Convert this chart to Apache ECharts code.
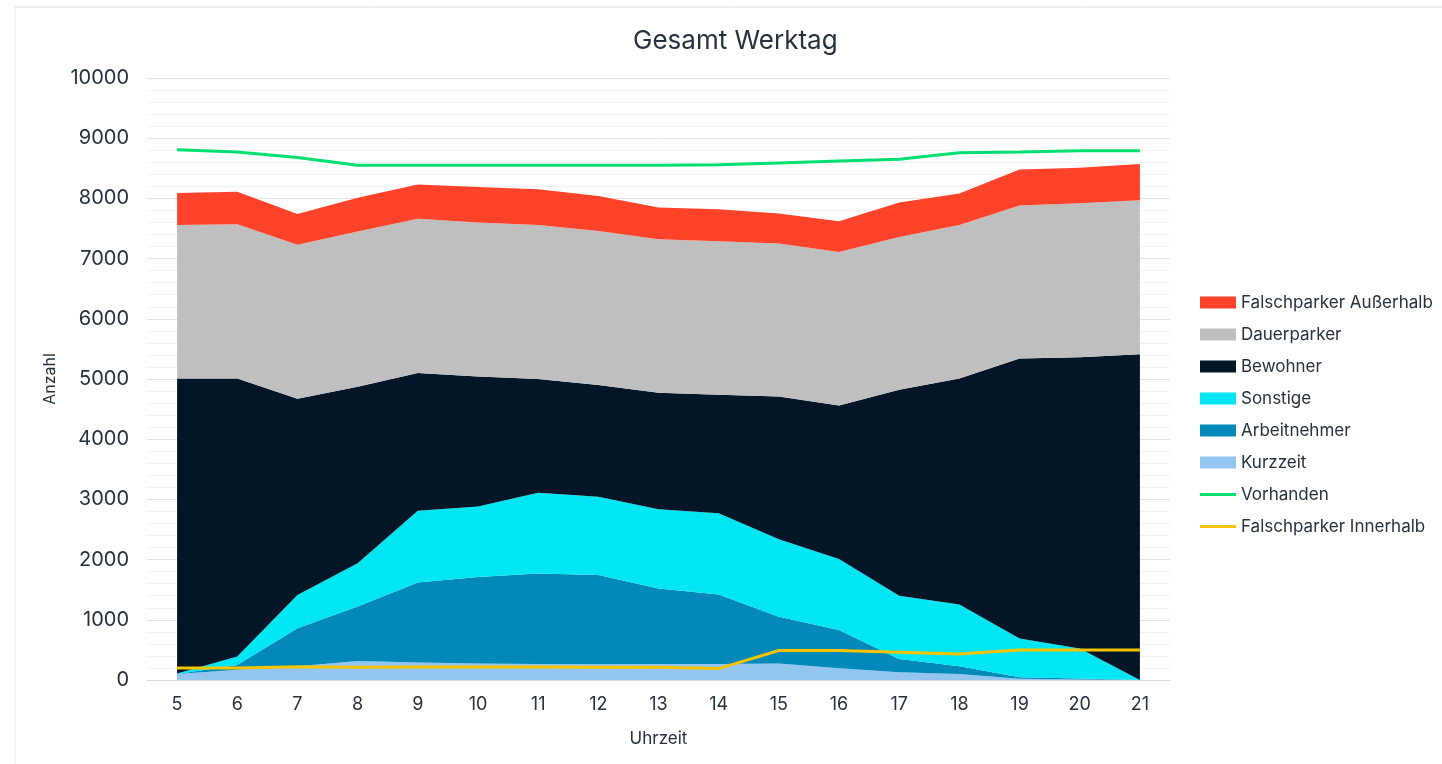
<!DOCTYPE html>
<html>
<head>
<meta charset="utf-8">
<title>Gesamt Werktag</title>
<script src="https://cdn.jsdelivr.net/npm/echarts@6/dist/echarts.min.js"></script>
<style>
  html, body { margin: 0; padding: 0; background: #fff; }
  #chart { width: 1442px; height: 764px; }
</style>
</head>
<body>
<div id="chart"></div>
<script>
// Uhrzeit (Stunde)
const hours = ['5','6','7','8','9','10','11','12','13','14','15','16','17','18','19','20','21']

// gestapelte Flaechen, von unten nach oben
const kurzzeit     = [100, 170, 230, 315, 290, 275, 265, 260, 265, 265, 275, 195, 130, 100, 20, 10, 0]
const arbeitnehmer = [0, 80, 630, 905, 1330, 1435, 1505, 1485, 1255, 1155, 775, 635, 220, 130, 25, 15, 0]
const sonstige     = [10, 140, 550, 720, 1190, 1170, 1340, 1300, 1315, 1350, 1290, 1180, 1050, 1025, 645, 500, 0]
const bewohner     = [4900, 4620, 3260, 2930, 2290, 2160, 1890, 1855, 1935, 1970, 2370, 2550, 3420, 3755, 4650, 4835, 5410]
const dauerparker  = [2550, 2560, 2560, 2580, 2560, 2560, 2560, 2560, 2550, 2550, 2540, 2550, 2540, 2550, 2540, 2560, 2560]
const falschAussen = [530, 540, 510, 560, 570, 590, 590, 580, 530, 530, 500, 510, 570, 520, 600, 590, 600]

// Linien
const vorhanden    = [8810, 8770, 8680, 8550, 8550, 8550, 8550, 8550, 8550, 8560, 8590, 8620, 8650, 8760, 8770, 8790, 8790]
const falschInnen  = [200, 200, 220, 210, 215, 215, 215, 210, 210, 190, 490, 490, 460, 430, 500, 500, 500]

const textColor = '#26313d'
const font = 'Inter, "Noto Sans", sans-serif'
// duenner Strich als Legenden-Symbol fuer die Linien
const lineIcon = 'path://M0,0L0.01,0M0,4.5L36,4.5L36,7.5L0,7.5ZM36,12L35.99,12'

function area(name, data, color) {
    return {
        name: name,
        type: 'line',
        stack: 'gesamt',
        data: data,
        symbol: 'none',
        lineStyle: { width: 0 },
        areaStyle: { color: color, opacity: 1 },
        itemStyle: { color: color },
        emphasis: { disabled: true }
    }
}

function line(name, data, color) {
    return {
        name: name,
        type: 'line',
        data: data,
        symbol: 'none',
        z: 5,
        lineStyle: { width: 3, color: color },
        itemStyle: { color: color },
        emphasis: { disabled: true }
    }
}

const chart = echarts.init(document.getElementById('chart'))

chart.setOption({
    animation: false,
    textStyle: { fontFamily: font },
    title: {
        text: 'Gesamt Werktag',
        left: 628,
        top: 23,
        textStyle: { fontSize: 26, fontWeight: 'normal', color: textColor, fontFamily: font }
    },
    legend: {
        orient: 'vertical',
        left: 1195,
        top: 289,
        itemWidth: 36,
        itemHeight: 12,
        itemGap: 15,
        textStyle: { fontSize: 17, color: textColor, fontFamily: font },
        data: [
            { name: 'Falschparker Außerhalb', icon: 'rect' },
            { name: 'Dauerparker', icon: 'rect' },
            { name: 'Bewohner', icon: 'rect' },
            { name: 'Sonstige', icon: 'rect' },
            { name: 'Arbeitnehmer', icon: 'rect' },
            { name: 'Kurzzeit', icon: 'rect' },
            { name: 'Vorhanden', icon: lineIcon },
            { name: 'Falschparker Innerhalb', icon: lineIcon }
        ]
    },
    grid: { left: 147, right: 272, top: 78, bottom: 84 },
    xAxis: {
        type: 'category',
        data: hours,
        boundaryGap: true,
        name: 'Uhrzeit',
        nameLocation: 'middle',
        nameGap: 50,
        nameTextStyle: { fontSize: 17, color: textColor },
        axisLine: { lineStyle: { color: '#d9d9d9' } },
        axisTick: { show: false },
        axisLabel: { fontSize: 18, color: textColor, margin: 16 }
    },
    yAxis: {
        type: 'value',
        min: 0,
        max: 10000,
        interval: 1000,
        name: 'Anzahl',
        nameLocation: 'middle',
        nameGap: 89,
        nameTextStyle: { fontSize: 16, color: textColor },
        axisLine: { show: false },
        axisTick: { show: false },
        axisLabel: { fontSize: 20, color: textColor, margin: 18, formatter: v => String(v) },
        splitLine: { lineStyle: { color: '#e3e3e3' } },
        minorTick: { show: false, splitNumber: 5 },
        minorSplitLine: { show: true, lineStyle: { color: '#f2f2f2' } }
    },
    graphic: [
        { type: 'line', shape: { x1: 15, y1: 7, x2: 1442, y2: 7 }, style: { stroke: '#dcdcdc', lineWidth: 1 } },
        { type: 'line', shape: { x1: 15, y1: 7, x2: 15, y2: 764 }, style: { stroke: '#ececec', lineWidth: 1 } }
    ],
    series: [
        area('Kurzzeit', kurzzeit, '#93c5f1'),
        area('Arbeitnehmer', arbeitnehmer, '#0288b9'),
        area('Sonstige', sonstige, '#00e6f2'),
        area('Bewohner', bewohner, '#031628'),
        area('Dauerparker', dauerparker, '#bfbfbf'),
        area('Falschparker Außerhalb', falschAussen, '#ff432a'),
        line('Vorhanden', vorhanden, '#00e06f'),
        line('Falschparker Innerhalb', falschInnen, '#f6c400')
    ]
})
</script>
</body>
</html>
